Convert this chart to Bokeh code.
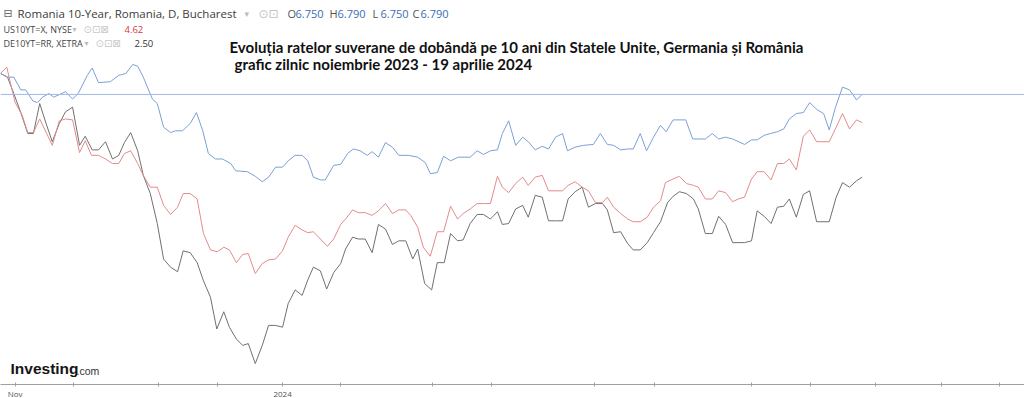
from bokeh.plotting import figure
from bokeh.models import Range1d, FixedTicker, Span, Label
from bokeh.embed import file_html
from bokeh.resources import INLINE

# Relative change (%) since the start of the window, per trading session index
ro_x = [0.0,1.0,1.9,2.9,3.6,4.6,5.3,6.0,6.9,7.6,
        9.3,10.3,11.1,12.4,13.1,14.0,15.7,16.9,17.9,18.9,
        19.6,20.4,21.7,22.4,23.3,24.3,25.0,26.0,27.1,28.0,
        28.9,29.7,30.7,31.7,32.9,33.6,35.3,36.4,37.4,38.3,
        39.3,40.3,41.1,42.1,43.1,43.9,44.7,45.7,46.4,47.6,
        48.6,49.6,50.4,51.4,52.4,53.1,54.0,55.0,56.0,56.9,
        58.3,59.6,60.7,61.4,62.4,63.3,64.3,65.4,67.1,68.1,
        69.0,70.0,71.0,71.7,72.6,73.6,74.6,75.4,76.4,77.4,
        78.3,79.3,80.3,81.0,82.1,83.3,84.7,85.7,86.7,87.6,
        88.6,89.6,90.4,91.4,92.3,93.3,94.3,95.1,96.1,97.9,
        98.9,100.7,101.7,102.6,103.6,104.6,106.3,107.3,108.1,109.1,
        110.0,111.0,111.9,112.7,113.7,114.7,115.6,116.7,117.6,118.4,
        119.3,120.3,121.3,122.3,123.1]
ro_y = [0.0,-0.4,-0.4,-1.8,-1.8,-3.0,-3.2,-2.6,-2.2,-2.6,
        -2.0,-2.8,-2.2,-0.2,0.6,-1.0,-0.9,-0.2,0.0,1.0,
        0.8,-0.4,-2.8,-3.3,-5.9,-6.5,-6.3,-6.3,-5.5,-4.3,
        -6.3,-8.8,-9.4,-9.4,-9.9,-10.7,-10.8,-11.3,-11.9,-11.4,
        -10.3,-10.3,-9.6,-9.0,-9.0,-9.6,-11.4,-11.7,-11.7,-10.1,
        -10.0,-8.8,-8.3,-8.5,-9.0,-8.6,-9.2,-7.6,-8.1,-9.0,
        -9.0,-9.2,-9.8,-11.0,-10.9,-9.1,-9.6,-9.2,-9.2,-8.5,
        -8.9,-8.5,-8.4,-6.6,-5.2,-7.9,-7.0,-7.5,-8.4,-8.0,
        -8.3,-7.0,-6.6,-8.5,-8.1,-7.9,-7.8,-6.6,-7.8,-7.9,
        -8.4,-8.3,-8.3,-6.6,-8.5,-7.0,-5.7,-6.4,-5.1,-5.1,
        -7.2,-7.2,-6.6,-7.2,-7.0,-7.2,-7.8,-7.3,-7.3,-6.8,
        -6.6,-6.4,-6.1,-5.0,-4.4,-4.3,-3.2,-4.0,-4.4,-6.2,
        -3.7,-1.5,-1.8,-2.9,-2.3]

us_x = [0.0,0.9,1.4,2.1,3.1,3.9,4.7,5.6,6.6,7.4,
        8.4,9.3,10.3,11.3,12.1,13.0,14.0,15.0,16.0,16.9,
        17.7,18.6,19.6,20.4,21.4,22.4,23.3,24.3,25.3,26.1,
        27.1,28.1,29.0,30.0,31.0,31.9,32.7,33.7,34.6,35.4,
        36.4,37.4,38.3,39.3,40.3,41.1,42.1,43.1,43.9,44.7,
        45.7,46.7,47.6,48.6,49.3,50.3,51.1,52.1,53.1,54.0,
        55.0,56.0,56.9,57.9,58.6,59.6,60.4,61.4,62.4,63.3,
        64.3,65.3,66.1,67.1,68.1,69.0,70.0,71.0,71.7,72.6,
        73.6,74.6,75.4,76.4,77.4,78.3,79.3,80.3,81.1,82.1,
        83.1,84.0,85.0,86.0,86.7,87.6,88.6,89.6,90.4,91.4,
        92.4,93.3,94.3,95.0,96.1,97.0,98.0,99.0,99.7,100.7,
        101.7,102.6,103.6,104.6,105.4,106.3,107.3,108.1,109.1,110.1,
        111.0,111.9,112.7,113.7,114.7,115.6,116.6,118.4,119.4,120.3,
        121.3,122.3,123.1]
us_y = [0.0,0.7,-1.0,-3.2,-4.6,-6.5,-6.5,-5.0,-6.6,-7.9,
        -5.2,-5.0,-5.1,-8.7,-7.4,-9.0,-9.0,-9.4,-9.9,-9.9,
        -8.8,-8.5,-9.9,-11.2,-12.5,-12.5,-14.5,-15.5,-14.7,-13.2,
        -13.2,-13.8,-17.6,-19.4,-19.6,-19.1,-19.4,-20.8,-19.9,-19.8,
        -22.0,-20.9,-20.5,-20.4,-19.5,-18.0,-16.7,-17.2,-17.5,-17.4,
        -18.2,-19.0,-18.2,-16.6,-16.0,-15.0,-15.3,-15.3,-15.6,-15.1,
        -14.3,-15.4,-15.0,-15.0,-15.6,-16.9,-19.1,-20.1,-17.4,-17.4,
        -14.6,-16.0,-15.4,-14.9,-14.3,-14.3,-14.3,-11.3,-12.5,-13.1,
        -12.1,-11.4,-12.3,-11.4,-11.2,-12.9,-12.9,-12.9,-12.3,-11.9,
        -12.5,-12.9,-14.2,-14.2,-13.6,-14.7,-15.4,-16.0,-16.3,-16.3,
        -15.8,-14.7,-14.0,-12.0,-11.6,-11.3,-12.1,-12.3,-12.5,-13.8,
        -13.8,-12.9,-13.1,-14.1,-13.8,-13.6,-11.6,-10.8,-10.8,-11.7,
        -9.9,-9.9,-9.4,-10.6,-6.9,-6.2,-7.5,-7.5,-5.9,-4.4,
        -6.1,-5.1,-5.4]

de_x = [0.0,1.0,1.9,2.9,3.9,4.7,5.6,6.6,7.4,8.4,
        9.3,10.3,11.3,12.1,13.1,14.0,15.0,16.0,16.9,17.7,
        18.6,19.6,20.4,21.4,22.4,23.3,24.3,25.3,26.1,27.1,
        28.1,29.0,30.0,30.9,31.9,32.7,33.7,34.6,35.4,36.4,
        37.4,38.3,39.3,40.3,41.1,42.1,43.1,43.9,44.7,45.7,
        46.6,47.6,48.6,49.3,50.3,51.1,52.1,53.1,54.0,55.0,
        56.0,56.9,57.9,58.9,59.6,60.6,61.6,62.4,63.4,64.3,
        65.3,66.1,67.1,68.1,69.0,70.0,71.0,71.7,72.6,73.6,
        74.6,75.4,76.4,77.4,78.3,79.3,80.3,81.1,82.1,83.1,
        84.0,85.0,86.0,86.7,87.6,88.6,89.6,90.4,91.4,92.4,
        93.3,94.3,95.3,96.1,97.0,98.0,99.0,99.7,100.7,101.7,
        102.6,103.6,104.6,106.3,107.3,108.1,109.1,110.1,111.0,111.9,
        112.7,113.7,114.7,115.6,116.6,118.4,119.4,120.3,121.3,122.3,
        123.1]
de_y = [0.0,-0.4,-2.2,-4.3,-6.6,-6.6,-3.3,-5.7,-7.5,-5.5,
        -4.2,-3.7,-7.9,-6.9,-8.4,-8.4,-7.5,-9.4,-9.0,-7.6,
        -6.5,-8.5,-11.2,-13.2,-16.5,-20.4,-21.3,-21.8,-19.5,-19.7,
        -20.8,-22.8,-24.6,-28.1,-26.2,-27.9,-29.2,-29.9,-29.7,-31.9,
        -29.9,-27.7,-27.7,-27.9,-25.3,-23.8,-24.4,-22.7,-21.3,-21.7,
        -23.7,-21.9,-20.9,-19.3,-18.0,-18.2,-18.2,-19.7,-16.6,-17.1,
        -18.8,-18.4,-18.4,-20.4,-19.3,-23.1,-23.8,-20.8,-20.8,-17.6,
        -18.4,-18.3,-16.5,-15.5,-15.5,-16.0,-15.2,-16.6,-16.5,-14.9,
        -14.5,-15.8,-13.4,-13.6,-16.2,-16.2,-16.2,-13.8,-13.0,-12.5,
        -14.7,-14.3,-14.3,-15.0,-17.5,-17.4,-18.7,-19.4,-19.4,-18.6,
        -17.5,-16.3,-14.2,-13.5,-13.0,-13.2,-13.8,-14.9,-17.6,-17.6,
        -15.7,-16.6,-18.6,-18.6,-18.4,-15.1,-15.7,-16.5,-14.7,-14.6,
        -13.8,-15.8,-13.3,-12.9,-16.3,-16.3,-13.6,-12.0,-12.5,-11.8,
        -11.4]

tick_pos = [2.1, 10.4, 22.6, 31.0, 40.3, 48.6, 61.7, 70.1, 84.9, 93.4,
            107.3, 115.7, 125.0, 134.4, 142.7]
tick_labels = ["Nov", "", "", "", "2024", "", "", "", "", "",
               "", "", "", "", ""]

title_1 = "Evoluția ratelor suverane de dobândă pe 10 ani din Statele Unite, Germania și România"
title_2 = "grafic zilnic noiembrie 2023 - 19 aprilie 2024"
main_name = "Romania 10-Year, Romania, D, Bucharest"
ohlc_keys = ["O", "H", "L", "C"]
ohlc_vals = ["6.750", "6.790", "6.750", "6.790"]
cmp_names = ["US10YT=X, NYSE", "DE10YT=RR, XETRA"]
cmp_last = ["4.62", "2.50"]

FH = 384  # frame height in px

p = figure(frame_width=1024, frame_height=FH,
           x_range=Range1d(0.0, 146.3), y_range=Range1d(-34.2, 8.03),
           output_backend="svg", toolbar_location=None,
           y_axis_location=None, min_border=0,
           background_fill_color="white", border_fill_color="white")
p.outline_line_color = None
p.xgrid.visible = False
p.ygrid.visible = False

ax = p.xaxis[0]
ax.ticker = FixedTicker(ticks=tick_pos)
ax.major_label_overrides = {t: l for t, l in zip(tick_pos, tick_labels)}
ax.axis_line_color = "#a0a0a0"
ax.major_tick_line_color = "#a0a0a0"
ax.major_tick_in = 2
ax.major_tick_out = 2
ax.minor_tick_line_color = None
ax.major_label_standoff = 1
ax.major_label_text_font = "Open Sans"
ax.major_label_text_font_size = "8px"
ax.major_label_text_color = "#555555"

p.line(de_x, de_y, line_color="#707070", line_width=1)
p.line(us_x, us_y, line_color="#e38b8b", line_width=1)
p.line(ro_x, ro_y, line_color="#7aa0d6", line_width=1)
p.add_layout(Span(location=ro_y[-1], dimension="width",
                  line_color="#9fbae3", line_width=1))

def lab(x, y_img, text, size, color, font="Open Sans", style="normal"):
    # x: px from left of frame; y_img: px from top of frame (text centre)
    p.add_layout(Label(x=x, y=FH - y_img, x_units="screen", y_units="screen",
                       text=text, text_font=font, text_font_size=size,
                       text_color=color, text_font_style=style,
                       text_baseline="middle", text_align="left"))

# header rows
lab(3, 13, "⊟", "11px", "#666666", font="DejaVu Sans")
lab(17, 13, main_name, "11.5px", "#3c3c3c")
lab(244, 13, "▾", "9px", "#bbbbbb", font="DejaVu Sans")
lab(258, 13, "⊙⊡", "12px", "#c4c4c4", font="DejaVu Sans")
ohlc_x = [287, 329, 372, 412]
for xk, k, v in zip(ohlc_x, ohlc_keys, ohlc_vals):
    lab(xk, 13, k, "11px", "#555555")
    lab(xk + 8, 13, v, "11px", "#3a6db3")

cmp_y = [29, 43]
cmp_arrow_x = [72, 84]
cmp_icon_x = [83, 95]
cmp_val_x = [124, 134]
cmp_val_col = ["#d63a3a", "#333333"]
for i in range(2):
    lab(3, cmp_y[i], cmp_names[i], "9px", "#444444")
    lab(cmp_arrow_x[i], cmp_y[i], "▾", "8px", "#bbbbbb", font="DejaVu Sans")
    lab(cmp_icon_x[i], cmp_y[i], "⊙⊡⊠", "10px", "#c8c8c8", font="DejaVu Sans")
    lab(cmp_val_x[i], cmp_y[i], cmp_last[i], "9.5px", cmp_val_col[i])

# title
lab(229, 46, title_1, "15px", "#111111", font="Lato", style="bold")
lab(234, 63, title_2, "15px", "#111111", font="Lato", style="bold")

# logo
lab(10, 368, "Investing", "15.5px", "#151515", font="Liberation Sans", style="bold")
lab(76, 370, ".com", "10.5px", "#333333", font="Liberation Sans")

open("out.html", "w").write(file_html(p, INLINE))
